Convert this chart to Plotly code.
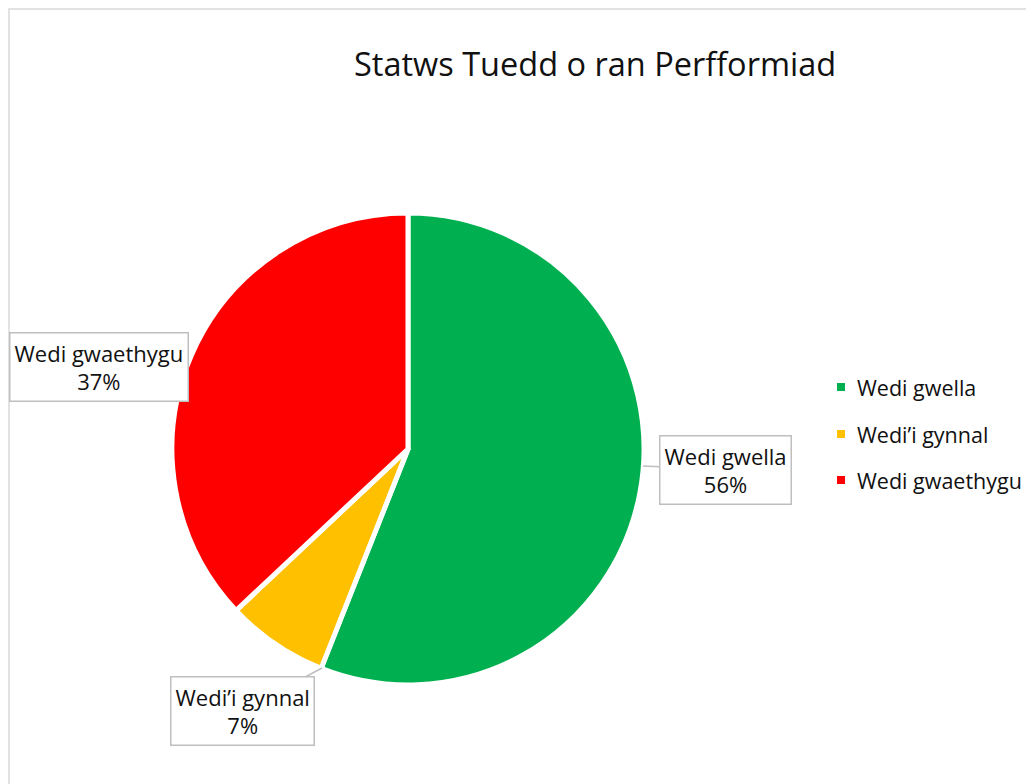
import plotly.graph_objects as go

# Data
categories = ["Wedi gwella", "Wedi\u2019i gynnal", "Wedi gwaethygu"]
values = [56, 7, 37]
colors = ["#00B050", "#FFC000", "#FF0000"]
title_text = "Statws Tuedd o ran Perfformiad"

W, H = 1034, 784
OFF = 8  # page body margin in the browser
FONT = "Open Sans"
cx, cy, r = 408 - OFF, 449 - OFF, 236  # pie centre / radius in px (layout)

fig = go.Figure()
fig.add_trace(go.Pie(
    labels=categories,
    values=values,
    sort=False,
    direction="clockwise",
    rotation=0,
    marker=dict(colors=colors, line=dict(color="white", width=5)),
    textinfo="none",
    hoverinfo="label+percent",
    showlegend=False,
    domain=dict(x=[(cx - r) / W, (cx + r) / W],
                y=[(H - cy - r) / H, (H - cy + r) / H]),
))

total = sum(values)
pcts = [f"{round(v / total * 100)}%" for v in values]


def px(x, y):
    return (x - OFF) / W, 1 - (y - OFF) / H


# data label boxes (centre px, arrow tip px or None) in screenshot coords
label_pos = [
    ((725.5, 470), (643, 466)),
    ((242, 711), (322, 668)),
    ((98.5, 367), None),
]
annotations = []
for cat, pct, (box, tip) in zip(categories, pcts, label_pos):
    common = dict(
        text=f"{cat}<br>{pct}",
        xref="paper", yref="paper",
        font=dict(family=FONT, size=22, color="#111111"),
        bgcolor="white", bordercolor="#BFBFBF", borderwidth=1.5, borderpad=4,
        align="center",
    )
    if tip is None:
        x, y = px(*box)
        annotations.append(dict(x=x, y=y, xanchor="center", yanchor="middle",
                                showarrow=False, **common))
    else:
        x, y = px(*tip)
        annotations.append(dict(x=x, y=y, ax=box[0] - tip[0], ay=box[1] - tip[1],
                                showarrow=True, arrowhead=0, arrowwidth=1.5,
                                arrowcolor="#BFBFBF", **common))

# chart-area border (as close to the top-left as the page allows)
bx0, by1 = px(OFF + 1, OFF + 1)
shapes = [dict(type="rect", xref="paper", yref="paper",
               x0=bx0, x1=1.2, y0=-0.2, y1=by1,
               line=dict(color="#D9D9D9", width=1.5), fillcolor="rgba(0,0,0,0)")]

# legend drawn manually
leg_y = [387, 434, 480]
for cat, col, ly in zip(categories, colors, leg_y):
    x0, y0 = px(837, ly + 4)
    x1, y1 = px(845, ly - 4)
    shapes.append(dict(type="rect", xref="paper", yref="paper",
                       x0=x0, x1=x1, y0=y0, y1=y1, line=dict(width=0), fillcolor=col))
    tx, ty = px(855, ly)
    annotations.append(dict(text=cat, x=tx, y=ty, xref="paper", yref="paper",
                            xanchor="left", yanchor="middle", showarrow=False,
                            font=dict(family=FONT, size=21.5, color="#111111")))

tx, ty = px(595, 64)
annotations.append(dict(text=title_text, x=tx, y=ty, xref="paper", yref="paper",
                        xanchor="center", yanchor="middle", showarrow=False,
                        font=dict(family=FONT, size=32.5, color="#111111")))

fig.update_layout(
    width=W, height=H,
    margin=dict(l=0, r=0, t=0, b=0),
    paper_bgcolor="white", plot_bgcolor="white",
    annotations=annotations, shapes=shapes,
)
fig.write_html("out.html")
